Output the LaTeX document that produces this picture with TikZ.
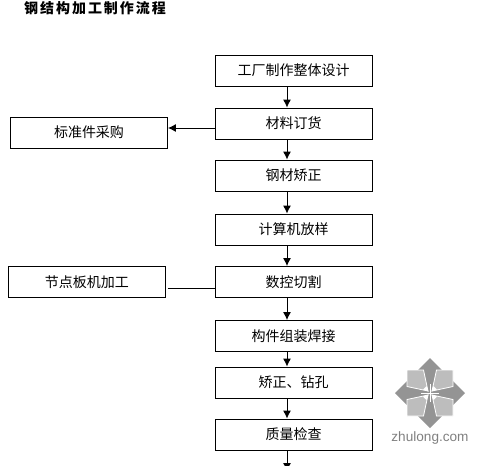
\documentclass[tikz,border=0pt]{standalone}
\usepackage{fontspec}
\setmainfont{Noto Sans CJK SC}
\newfontfamily\markfont{Liberation Sans}
\usetikzlibrary{arrows.meta}
\tikzset{>={Latex[length=8pt,width=8pt]}}
\colorlet{markdark}{black!42}
\colorlet{marklight}{black!26}
\colorlet{marktext}{black!50}
\tikzstyle{stepbox}=[draw=black,line width=0.9pt,minimum width=157pt,minimum height=31pt,inner sep=0pt,font=\fontsize{14}{14}\selectfont]
\tikzstyle{flow}=[black,line width=0.9pt]

\begin{document}
\begin{tikzpicture}[x=1pt,y=-1pt]
  
  \def\W{491}    % picture width
  \def\Ht{466}   % picture height
  \def\xc{293.5} % centre of main column
  \def\xf{287}   % x of the flow arrows
  \def\mx{430}   % centre of mark
  \def\my{393}   % centre of mark
  
  \useasboundingbox (0,0) rectangle (\W,\Ht);
  \clip (0,0) rectangle (\W,\Ht);
  
  % TITLE
  \node[anchor=west,inner sep=0pt,font=\fontsize{14}{14}\selectfont\bfseries] (title) at (24,8.5)
    {\addfontfeatures{LetterSpace=14}钢结构加工制作流程};
  
  % MAIN COLUMN
  \foreach \name/\ym/\txt in {
      design/70.5/工厂制作整体设计,
      order/123.5/材料订货,
      straight/175.5/钢材矫正,
      lofting/229.5/计算机放样,
      cutting/282/数控切割,
      welding/336/构件组装焊接,
      drilling/382.5/矫正、钻孔,
      quality/434.5/质量检查}{
    \node[stepbox] (\name) at (\xc,\ym) {\txt};
  }
  
  % SIDE BOXES
  \node[stepbox] (purchase) at (89,132.5) {标准件采购};
  \node[stepbox] (plate) at (87,282) {节点板机加工};
  
  % FLOW
  \coordinate (axis) at (\xf,0);
  \foreach \a/\b in {design/order,order/straight,straight/lofting,lofting/cutting,
                     cutting/welding,welding/drilling,drilling/quality}{
    \draw[->,flow] (\a.south -| axis) -- (\b.north -| axis);
  }
  \coordinate (exit) at (\xf,471);
  \draw[->,flow] (quality.south -| axis) -- (exit);
  
  % SIDE CONNECTORS
  \coordinate (tapA) at (215,128);
  \coordinate (tapB) at (215,288);
  \draw[->,flow] (tapA) -- (purchase.east |- tapA);
  \draw[flow] ([xshift=2pt]plate.east |- tapB) -- (tapB);
  
  % MARK
  \begin{scope}[shift={(\mx,\my)}]
    \fill[markdark] (0,-35) -- (35,0) -- (0,35) -- (-35,0) -- cycle;
    \foreach \sx/\sy in {1/1,1/-1,-1/1,-1/-1}{
      \filldraw[fill=marklight,draw=white,line width=0.8pt]
        (\sx*2,\sy*2) -- (\sx*6.5,\sy*23) -- (\sx*23,\sy*23) -- (\sx*23,\sy*6.5) -- cycle;
      \fill[white] (\sx*1.5,\sy*1.5) -- (\sx*3.5,\sy*7) -- (\sx*7,\sy*3.5) -- cycle;
    }
    \draw[white,line width=0.7pt] (-9,0) -- (9,0) (0,-9) -- (0,9);
  \end{scope}
  \node[marktext,inner sep=0pt,font=\markfont\fontsize{13.6}{14}\selectfont] (site) at (\mx,438) {zhulong.com};

\end{tikzpicture}
\end{document}
